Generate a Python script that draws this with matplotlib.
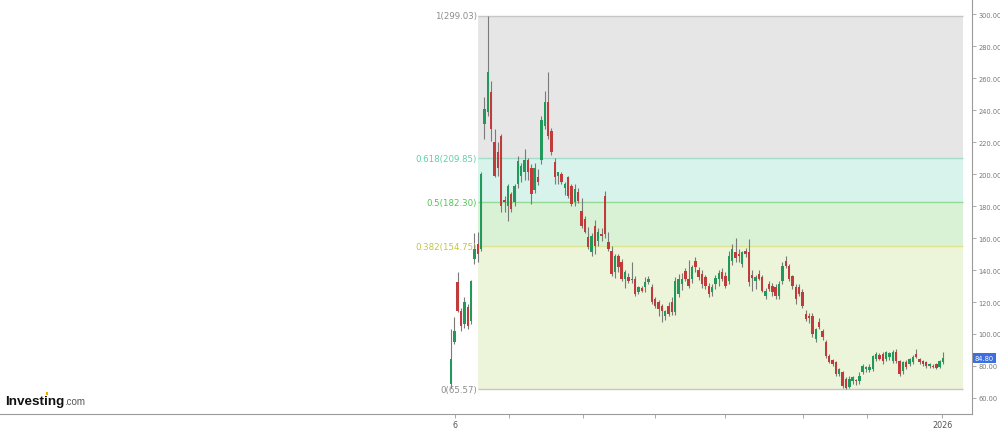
#========================================#
# Candlestick chart with Fibonacci retracement levels
#========================================#
import numpy as np
import matplotlib.pyplot as plt
from matplotlib.patches import Rectangle

# Daily OHLC values
#========================================#
opens = [68.75, 95, 132.5, 114.4, 106, 117, 108, 147, 156, 153,
         231, 238.75, 251, 220, 213.75, 223.75, 183.5, 180, 187.5, 182.5,
         193.75, 198.75, 201, 209, 204, 190, 198, 209, 230, 245,
         227, 207.5, 199, 200, 191, 198, 192.5, 182.5, 189, 177,
         172, 160.6, 151, 167.5, 158, 162.5, 186, 157.5, 152, 139,
         148.75, 145, 134.4, 135.6, 134.4, 134.4, 126.25, 129, 129.4, 132.5,
         129.4, 121.9, 120, 117.5, 111.25, 117.5, 120, 113.75, 125, 131.25,
         139.4, 134.4, 134.4, 145.6, 140, 137.5, 135.6, 130, 126.25, 131.25,
         134.4, 138.75, 136.25, 133, 145.6, 151, 150, 144, 152, 151.25,
         137, 133, 137.5, 135.6, 123.75, 131.25, 130, 129.4, 124, 133.1,
         145.6, 142.5, 136.25, 129.4, 129.4, 126.25, 112.5, 111.25, 111.25, 96.9,
         107.5, 101.9, 95, 86.25, 83.5, 82.5, 75, 76.25, 71.9, 67,
         70.6, 71, 70.6, 76, 78.1, 77.5, 78.1, 84.4, 86.9, 87.5,
         84.4, 85.6, 83.1, 88.75, 83.1, 76.9, 82.5, 81.25, 82.5, 87.5,
         84.4, 83.1, 82.5, 80, 80, 81.25, 79.4, 82.5]
highs = [103, 110.6, 138.75, 116, 123, 119, 134, 163, 164, 201,
         248, 299.03, 258, 228, 220, 225, 186, 194, 189, 194,
         211, 207, 215.6, 210, 206, 207, 203, 236, 252, 263.75,
         229, 210, 201, 201, 195, 199, 194, 194, 191, 185,
         174, 167, 163, 171, 166, 166, 189.4, 164, 155, 150,
         150, 147, 140, 138, 145, 136, 130, 130, 135.6, 136.25,
         131, 123, 121, 119, 115, 120, 123, 135.6, 137.5, 138,
         141, 146, 143, 148, 142, 140, 137, 132, 131, 137,
         140, 141, 139, 152, 156, 160, 153, 152, 154, 159.4,
         140, 137, 140, 137, 129, 133, 132, 131, 133, 145,
         148.75, 144, 137, 131, 131, 128, 115, 113, 113, 104,
         110, 103, 96, 87.5, 84.5, 83, 78.5, 77, 73, 74,
         74, 72, 76, 81, 80, 81, 87, 88.75, 88, 88.5,
         89.5, 89, 90, 90.6, 84, 83, 83.5, 85, 87, 90.6,
         85, 84, 83, 82, 81, 82, 84, 88.75]
lows = [66.5, 93.75, 113.75, 102, 104, 103, 106, 144, 145, 152,
        222, 236, 220.6, 198, 199, 176, 176, 170.6, 176, 180,
        191, 195, 196, 196, 181, 188, 193, 206, 228, 222,
        212, 194, 194, 194, 187, 185, 180, 180, 182, 166,
        163, 153, 149, 150, 155, 158, 160, 152, 136, 135,
        139, 133, 129, 132, 132, 124, 125, 126, 126.25, 131,
        119, 116, 111, 107.5, 109, 111, 112, 112, 123, 127.5,
        133, 129, 132, 139, 134, 129, 128, 123, 123.75, 128,
        130, 133, 129, 131, 143, 145, 145, 142, 148, 130,
        127, 128, 134, 126, 122, 127, 124, 122, 122, 131,
        141, 133, 128, 119, 124, 116, 108, 107, 98, 95,
        103, 96, 85, 82, 80, 74, 74, 66.5, 65.57, 66,
        69, 68, 69, 75, 76, 76, 77, 83, 84, 81,
        83, 84, 82, 82, 74, 75, 78, 80, 81, 85,
        81, 80, 79, 78.5, 78.5, 78, 78.5, 81]
closes = [84.4, 101.9, 114.4, 105, 120, 105, 133, 153, 150, 200,
          240.6, 263.75, 228, 199, 204, 180, 182.5, 192.5, 178, 192.5,
          208, 205, 209, 201, 187.5, 204, 195, 234, 245, 224,
          214, 198, 201, 195, 194, 186, 181, 190.6, 183, 167.5,
          164, 154.4, 161, 155, 164, 161.5, 162.5, 153, 137.5, 148.75,
          142, 134.4, 138.75, 133.1, 133.5, 125, 129.4, 127, 132.5, 134.4,
          120, 117.5, 115.6, 114.4, 114.4, 112.5, 113.75, 133, 134.4, 134.4,
          134.4, 130, 141.9, 141.9, 135.6, 131.25, 130, 125, 129.4, 135,
          138, 134.4, 130, 149, 153, 147.5, 149, 151, 150, 132.5,
          135, 135.6, 134.4, 126.9, 126.9, 128, 126, 123.75, 131.25, 142.5,
          142.5, 134.4, 130, 121.9, 125, 117.5, 109.4, 110, 100, 103.1,
          104.4, 98.1, 86.25, 82.5, 81, 75, 78.1, 67.5, 66.3, 71.9,
          73.1, 70.6, 73.75, 80, 79.4, 79.4, 86.25, 87.5, 84.4, 83.1,
          88.75, 88.1, 88.75, 83.1, 75, 82.5, 79.4, 84.4, 85.6, 85.6,
          82.5, 81.25, 80, 81.25, 79.4, 79, 83.1, 84.8]

# Fibonacci retracement levels
fib_ratios = [1, 0.618, 0.5, 0.382, 0]
fib_prices = [299.03, 209.85, 182.30, 154.75, 65.57]

# Month ticks on the x axis (candle index) and their labels
month_ticks = [1.2, 17.3, 39.4, 61, 81.9, 105.2, 124.3, 146.7]
month_labels = ['6', '', '', '', '', '', '', '2026']
last_price = 84.80

#========================================#
o = np.array(opens)
h = np.array(highs)
l = np.array(lows)
c = np.array(closes)
x = np.arange(len(o))

fig = plt.figure(figsize=(10, 4.31), dpi=100)
ax = fig.add_axes([0, 16 / 431, 0.972, 415 / 431])

# Fibonacci bands
#========================================#
band_start, band_end = 8.1, 153
band_colors = ['#e6e6e6', '#d7f3ec', '#d9f2d5', '#ecf4da']
line_colors = ['#c6c6c6', '#a3dccb', '#94d994', '#dfe48e', '#c6c6c6']
text_colors = ['#8c8c8c', '#5bcfae', '#4fc64f', '#c3c63c', '#8c8c8c']
for k in range(len(band_colors)):
    ax.fill_between([band_start, band_end], fib_prices[k + 1], fib_prices[k],
                    color=band_colors[k], lw=0, zorder=0)
ax.hlines(fib_prices, band_start, band_end, colors=line_colors, lw=1.0, zorder=1)
for r, p, col in zip(fib_ratios, fib_prices, text_colors):
    ax.text(band_start - 0.4, p, f"{r:g}({p:.2f})", color=col, fontsize=6.2,
            ha='right', va='center', zorder=3)

# Candles
#========================================#
up = c >= o
body_colors = np.where(up, '#21995a', '#c23b3b')
ax.vlines(x, l, h, color='#7a7a7a', lw=0.8, zorder=2)
ax.bar(x, np.maximum(np.abs(c - o), 0.8), bottom=np.minimum(o, c),
       width=0.72, color=body_colors, lw=0, zorder=3)

# Axes styling
#========================================#
ax.set_xlim(-134.75, 155.66)
ax.set_ylim(50, 309.375)
ax.spines['left'].set_visible(False)
ax.spines['top'].set_visible(False)
ax.spines['right'].set_color('#9a9a9a')
ax.spines['bottom'].set_color('#9a9a9a')
ax.yaxis.tick_right()
ax.set_yticks(np.arange(60, 301, 20))
ax.set_yticklabels([f"{v:.2f}" for v in np.arange(60, 301, 20)])
ax.tick_params(axis='y', labelsize=4.8, colors='#9a9a9a', labelcolor='#777777',
               length=3, width=0.6, pad=1.5)
ax.set_xticks(month_ticks)
ax.set_xticklabels(month_labels)
ax.tick_params(axis='x', labelsize=5.8, colors='#9a9a9a', labelcolor='#555555',
               length=3, width=0.6, pad=1.5)

# Current price tag
ax.text(1.003, last_price, f"{last_price:.2f}", transform=ax.get_yaxis_transform(),
        color='white', fontsize=4.8, ha='left', va='center', zorder=5, clip_on=False,
        bbox=dict(boxstyle='square,pad=0.3', fc='#3d6fe0', ec='none'))

# Logo
#========================================#
fig.text(0.005, 1 - 405 / 431, 'Investing', fontsize=9.7, weight='bold',
         family='Liberation Sans', color='#111111', va='baseline')
fig.text(0.064, 1 - 405 / 431, '.com', fontsize=7, family='Liberation Sans',
         color='#555555', va='baseline')
fig.add_artist(Rectangle((0.0455, 1 - 396 / 431), 0.0022, 3 / 431,
                         transform=fig.transFigure, color='#f2a900', lw=0))

fig.savefig("out.png", dpi=100)
